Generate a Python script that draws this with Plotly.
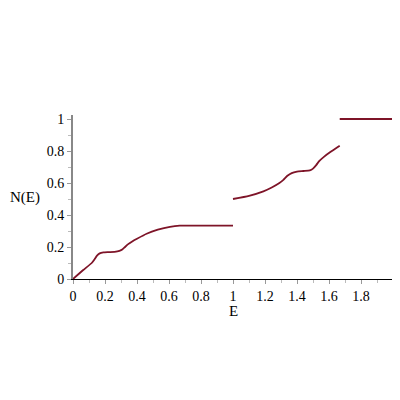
import plotly.graph_objects as go

LINE = "#7E1428"
SERIF = "Liberation Serif, Times New Roman, serif"

# first branch (0 <= E <= 1)
e_low = [0, 0.064, 0.117, 0.135, 0.15, 0.167, 0.19, 0.22, 0.26, 0.29, 0.31, 0.325,
         0.345, 0.37, 0.40, 0.46, 0.53, 0.606, 0.667, 1.0]
n_low = [0, 0.056, 0.100, 0.124, 0.146, 0.160, 0.166, 0.168, 0.170, 0.176, 0.186, 0.200,
         0.218, 0.235, 0.252, 0.283, 0.308, 0.326, 0.333, 0.333]

# second branch (1 <= E <= 5/3)
e_mid = [1.0, 1.1, 1.19, 1.242, 1.29, 1.315, 1.34, 1.367, 1.40, 1.44, 1.48, 1.50,
         1.52, 1.54, 1.57, 1.606, 1.667]
n_mid = [0.5, 0.52, 0.548, 0.572, 0.600, 0.620, 0.645, 0.662, 0.671, 0.675, 0.679, 0.690,
         0.712, 0.738, 0.765, 0.792, 0.833]

# top plateau
e_top = [1.667, 2.0]
n_top = [1.0, 1.0]

x_ticks = [0, 0.2, 0.4, 0.6, 0.8, 1, 1.2, 1.4, 1.6, 1.8]
x_labels = ["0", "0.2", "0.4", "0.6", "0.8", "1", "1.2", "1.4", "1.6", "1.8"]
y_ticks = [0, 0.2, 0.4, 0.6, 0.8, 1]
y_labels = ["0", "0.2", "0.4", "0.6", "0.8", "1"]

fig = go.Figure()
for xs, ys in [(e_low, n_low), (e_mid, n_mid), (e_top, n_top)]:
    fig.add_trace(go.Scatter(
        x=xs, y=ys, mode="lines",
        line=dict(color=LINE, width=1.8, shape="spline", smoothing=0.5),
        cliponaxis=False, hoverinfo="skip",
    ))

# page body adds ~8px offset, so margins are shifted left/up by 8;
# y range padded a little on top so the N=1 line is not clipped
fig.update_layout(
    width=400, height=400,
    margin=dict(l=65, r=15, t=107, b=129),
    plot_bgcolor="white", paper_bgcolor="white",
    showlegend=False,
    font=dict(family=SERIF, size=14, color="black"),
    xaxis=dict(
        range=[0, 2], showgrid=False, zeroline=False,
        showline=True, linecolor="black", linewidth=1,
        tickvals=x_ticks, ticktext=x_labels, tickfont=dict(family=SERIF, size=14),
        ticks="outside", ticklen=4, tickcolor="#999999",
        minor=dict(dtick=0.1, ticks="outside", ticklen=3, tickcolor="#bbbbbb"),
    ),
    yaxis=dict(
        range=[0, 1.025], showgrid=False, zeroline=False,
        showline=True, linecolor="#888888", linewidth=2,
        tickvals=y_ticks, ticktext=y_labels, tickfont=dict(family=SERIF, size=14),
        ticks="outside", ticklen=4, tickcolor="#999999",
        minor=dict(dtick=0.1, ticks="outside", ticklen=3, tickcolor="#bbbbbb"),
    ),
    annotations=[
        # E label sits ~32px below the axis (plot area is 164px tall)
        dict(text="E", x=1, y=-0.195, xref="x", yref="paper", showarrow=False,
             xanchor="center", yanchor="middle", font=dict(family=SERIF, size=15)),
        dict(text="N(E)", x=-0.15, y=0.5, xref="paper", yref="paper", showarrow=False,
             xanchor="center", yanchor="middle", font=dict(family=SERIF, size=15)),
    ],
)

fig.write_html("out.html")
